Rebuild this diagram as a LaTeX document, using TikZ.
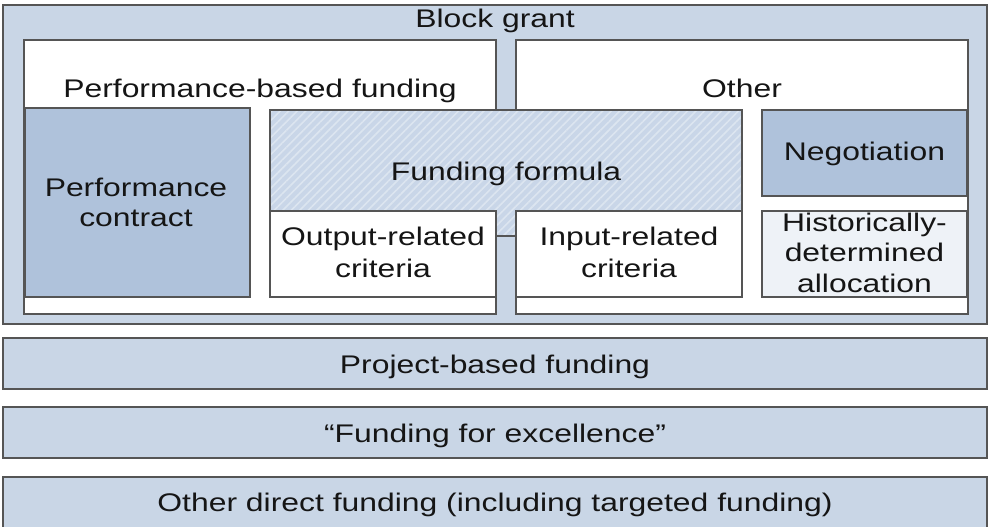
\documentclass[tikz,border=0pt]{standalone}
\usepackage{fontspec}
\newfontfamily\labfont[FakeStretch=1.25]{Liberation Sans}
\usetikzlibrary{patterns.meta}
\definecolor{bgblue}{HTML}{C9D6E6}
\definecolor{darkblue}{HTML}{AFC2DB}
\definecolor{paleblue}{HTML}{EEF2F7}
\definecolor{hatchbase}{HTML}{C9D6E8}
\definecolor{hatchline}{HTML}{DCE5F0}
\definecolor{edge}{HTML}{555555}
\definecolor{ink}{HTML}{151515}
\tikzset{
  box/.style={draw=edge, line width=1.1pt, inner sep=0pt, outer sep=0pt, anchor=north west},
  hatched/.style={preaction={fill=hatchbase}, preaction={pattern={Lines[angle=45,distance=6pt,line width=1.6pt]}, pattern color=hatchline}},
  lab/.style={font=\labfont\fontsize{25.5}{30.7}\selectfont, text=ink, inner sep=0pt, anchor=base}
}
\begin{document}
\begin{tikzpicture}[x=1pt,y=-1pt]
\useasboundingbox (0,0) rectangle (988,527);
\clip (0,0) rectangle (988,527);
% outer block grant
\node[box, fill=bgblue, minimum width=984pt, minimum height=319pt] (block) at (3,5) {};
\node[lab] (blocklab) at (495,28) {Block grant};
% white sub-boxes
\node[box, fill=white, minimum width=472pt, minimum height=274pt] (pbf) at (24,40) {};
\node[box, fill=white, minimum width=452pt, minimum height=274pt] (oth) at (516,40) {};
\node[lab] (pbflab) at (260,97) {Performance-based funding};
\node[lab] (othlab) at (742,97) {Other};
% performance contract
\node[box, fill=darkblue, minimum width=225pt, minimum height=189pt] (pc) at (25,108) {};
\node[lab] (pc1) at (136,196) {Performance};
\node[lab] (pc2) at (136,226.7) {contract};
% funding formula (hatched)
\node[box, hatched, minimum width=472pt, minimum height=126pt] (ff) at (270,110) {};
\node[lab] (fflab) at (506,180) {Funding formula};
% output / input
\node[box, fill=white, minimum width=226pt, minimum height=86pt] (out) at (270,211) {};
\node[box, fill=white, minimum width=226pt, minimum height=86pt] (inp) at (516,211) {};
\node[lab] (out1) at (383,245.7) {Output-related};
\node[lab] (out2) at (383,277.3) {criteria};
\node[lab] (inp1) at (629,245.7) {Input-related};
\node[lab] (inp2) at (629,277.3) {criteria};
% negotiation / historically
\node[box, fill=darkblue, minimum width=205pt, minimum height=86pt] (neg) at (762,110) {};
\node[lab] (neglab) at (864.5,160) {Negotiation};
\node[box, fill=paleblue, minimum width=205pt, minimum height=86pt] (hist) at (762,211) {};
\node[lab] (h1) at (864.5,231.7) {Historically-};
\node[lab] (h2) at (864.5,261.5) {determined};
\node[lab] (h3) at (864.5,292.5) {allocation};
% bottom bands
\node[box, fill=bgblue, minimum width=984pt, minimum height=51pt] (proj) at (3,338) {};
\node[lab] (projlab) at (495,373.3) {Project-based funding};
\node[box, fill=bgblue, minimum width=984pt, minimum height=51pt] (exc) at (3,407) {};
\node[lab] (exclab) at (495,442.3) {“Funding for excellence”};
\node[box, fill=bgblue, minimum width=984pt, minimum height=60pt] (odf) at (3,477) {};
\node[lab] (odflab) at (495,511.7) {Other direct funding (including targeted funding)};
\end{tikzpicture}
\end{document}
